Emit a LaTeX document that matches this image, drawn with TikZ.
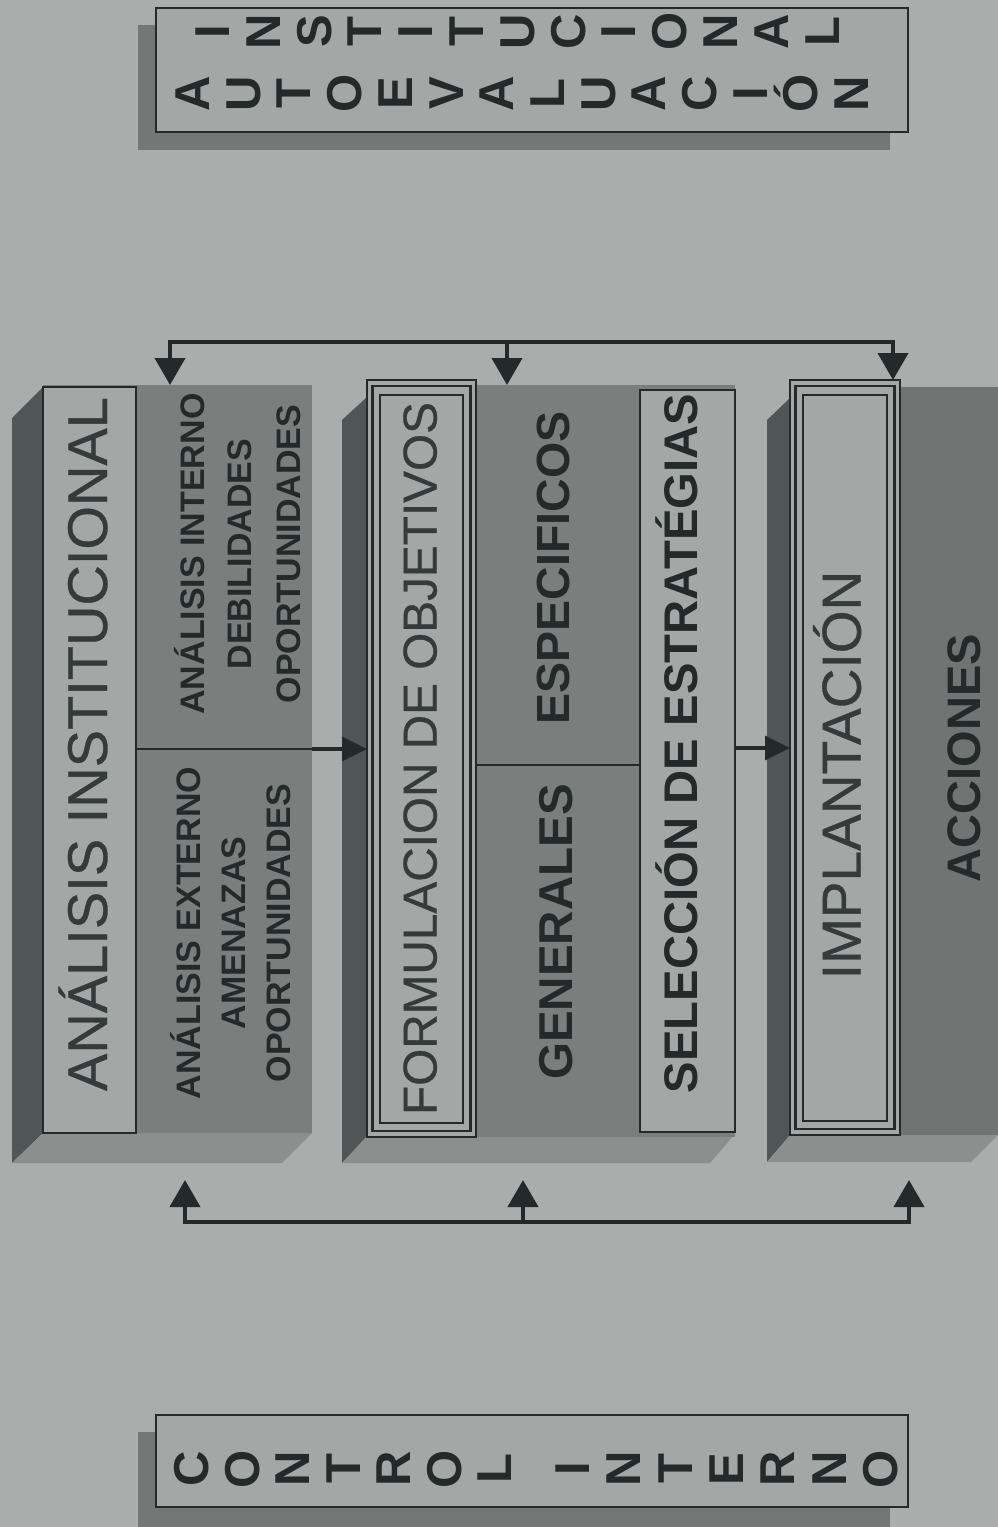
\documentclass[tikz,border=0pt]{standalone}
\usepackage{fontspec}
\setmainfont{Liberation Sans}
\newfontfamily\myregfont[FakeBold=0.6]{Liberation Sans}
\usetikzlibrary{arrows.meta,calc}
\definecolor{bg}{HTML}{A9ADAB}
\definecolor{lightf}{HTML}{A3A8A6}
\definecolor{frontf}{HTML}{7A7F7E}
\definecolor{leftf}{HTML}{505655}
\definecolor{botf}{HTML}{8B908E}
\definecolor{shadowc}{HTML}{737877}
\definecolor{ink}{HTML}{242A2A}
\definecolor{inkb}{HTML}{343B3A}
\begin{document}
\begin{tikzpicture}[x=1pt,y=-1pt,
  box/.style={draw=ink, fill=lightf, inner sep=0pt, outer sep=0pt},
  face/.style={fill=frontf, inner sep=0pt, outer sep=0pt},
  txt/.style={rotate=90, anchor=base, inner sep=0pt, outer sep=0pt, text=ink},
  lettr/.style={txt, font=\bfseries\fontsize{49}{52}\selectfont},
  bigreg/.style={txt, text=inkb, font=\myregfont\fontsize{#1}{#1}\selectfont},
  bigbold/.style={txt, font=\bfseries\fontsize{#1}{#1}\selectfont},
  bus/.style={draw=ink, line width=4pt},
  side/.style={draw=ink, line width=3.5pt, -{Triangle[length=25pt,width=24pt]}},
  down/.style={bus, -{Triangle[length=27pt,width=30pt]}}
]
\useasboundingbox (0,0) rectangle (998,1527);
\fill[bg] (0,0) rectangle (998,1527);

% ---------- top box ----------
\fill[shadowc] (138,25) rectangle (890,150);
\node[box, line width=1.2pt, minimum width=752pt, minimum height=124pt] (auto) at (532,70) {};
\foreach \c [count=\i from 0] in {I,N,S,T,I,T,U,C,I,O,N,A,L}
  \node[lettr] (ins\i) at ({229.5+50.8*\i},31.5) {\c};
\foreach \c [count=\i from 0] in {A,U,T,O,E,V,A,L,U,A,C,I,Ó,N}
  \node[lettr] (aut\i) at ({209.5+50.7*\i},93.5) {\c};

% ---------- bottom box ----------
\fill[shadowc] (138,1432) rectangle (890,1527);
\node[box, line width=1.2pt, minimum width=752pt, minimum height=92pt] (ctrl) at (532,1461) {};
\foreach \c [count=\i from 0] in {C,O,N,T,R,O,L}
  \node[lettr] (con\i) at ({208.5+50.5*\i},1469) {\c};
\foreach \c [count=\i from 0] in {I,N,T,E,R,N,O}
  \node[lettr] (int\i) at ({589.5+51.3*\i},1469) {\c};

% ---------- block 1 ----------
\fill[leftf] (12,418) -- (43,387) -- (43,1133) -- (12,1163) -- cycle;
\fill[botf] (12,1163) -- (43,1133) -- (312,1133) -- (282,1163) -- cycle;
\node[face, minimum width=269pt, minimum height=748pt] (f1) at (177.5,759) {};
\node[box, line width=2.2pt, minimum width=93pt, minimum height=746pt] (ai) at (89.5,760) {};
\coordinate (d1) at (0,749);
\draw[ink, line width=2pt] (ai.east |- d1) -- (f1.east |- d1);

% ---------- block 2 ----------
\fill[leftf] (342,420) -- (367,397) -- (367,1137) -- (342,1163) -- cycle;
\fill[botf] (342,1163) -- (367,1136) -- (735,1134) -- (710,1163) -- cycle;
\node[face, minimum width=368pt, minimum height=752pt] (f2) at (551,761) {};
\node[box, line width=1.4pt, minimum width=109pt, minimum height=757pt] (fo) at (421.5,758.5) {};
\draw[ink, line width=2.8pt] ($(fo.north west)+(5.5,6)$) rectangle ($(fo.south east)+(-5.5,-6)$);
\draw[ink, line width=1.3pt] ($(fo.north west)+(13,15)$) rectangle ($(fo.south east)+(-13,-14)$);
\node[box, line width=2.2pt, minimum width=95pt, minimum height=742pt] (se) at (687.5,761) {};
\coordinate (d2) at (0,765);
\draw[ink, line width=2pt] (fo.east |- d2) -- (se.west |- d2);

% ---------- block 3 ----------
\fill[leftf] (767,420) -- (790,398) -- (790,1135) -- (767,1162) -- cycle;
\fill[botf] (767,1162) -- (790,1135) -- (998,1135) -- (971,1162) -- cycle;
\node[face, fill=frontf!92!black, minimum width=210pt, minimum height=748pt] (f3) at (895,761) {};
\node[box, line width=1.4pt, minimum width=110pt, minimum height=755pt] (im) at (845,757.5) {};
\draw[ink, line width=2.8pt] ($(im.north west)+(5.5,6)$) rectangle ($(im.south east)+(-5.5,-6)$);
\draw[ink, line width=1.3pt] ($(im.north west)+(13,15)$) rectangle ($(im.south east)+(-13,-14)$);

% ---------- texts ----------
\node[bigreg=56] (t-ai) at (107,744) {ANÁLISIS INSTITUCIONAL};
\node[bigbold=34] (t-ae1) at (200.7,933) {ANÁLISIS EXTERNO};
\node[bigbold=34] (t-ae2) at (245.7,933) {AMENAZAS};
\node[bigbold=34] (t-ae3) at (290.7,933) {OPORTUNIDADES};
\node[bigbold=34] (t-an1) at (204,554) {ANÁLISIS INTERNO};
\node[bigbold=34] (t-an2) at (251,554) {DEBILIDADES};
\node[bigbold=34] (t-an3) at (300.5,554) {OPORTUNIDADES};
\node[bigreg=47.7] (t-fo) at (436.6,758.5) {FORMULACION DE OBJETIVOS};
\node[bigbold=47.5] (t-ge) at (572,932) {GENERALES};
\node[bigbold=46.5] (t-es) at (569.7,568) {ESPECIFICOS};
\node[bigbold=47.2] (t-se) at (697.5,743.5) {SELECCIÓN DE ESTRATÉGIAS};
\node[bigreg=55] (t-im) at (860.7,775) {IMPLANTACIÓN};
\node[bigbold=47] (t-ac) at (980,758) {ACCIONES};

% ---------- side arrows ----------
\coordinate (d3) at (0,748);
\draw[side] (f1.east |- d1) -- (fo.west |- d1);
\draw[side] (se.east |- d3) -- (im.west |- d3);

% ---------- top bus ----------
\coordinate (tb1) at (170,342);
\coordinate (tb2) at (507,342);
\coordinate (tb3) at (893,342);
\draw[bus, line cap=rect] (tb1) -- (tb3);
\draw[down] (tb1) -- (tb1 |- f1.north);
\draw[down] (tb2) -- (tb2 |- f2.north);
\draw[down] (tb3) -- (tb3 |- im.north);

% ---------- bottom bus ----------
\coordinate (bb1) at (185,1222);
\coordinate (bb2) at (523,1222);
\coordinate (bb3) at (909,1222);
\coordinate (ub1) at (185,1180);
\coordinate (ub2) at (523,1180);
\coordinate (ub3) at (909,1180);
\draw[bus, line cap=rect] (bb1) -- (bb3);
\draw[down] (bb1) -- (ub1);
\draw[down] (bb2) -- (ub2);
\draw[down] (bb3) -- (ub3);
\end{tikzpicture}
\end{document}
